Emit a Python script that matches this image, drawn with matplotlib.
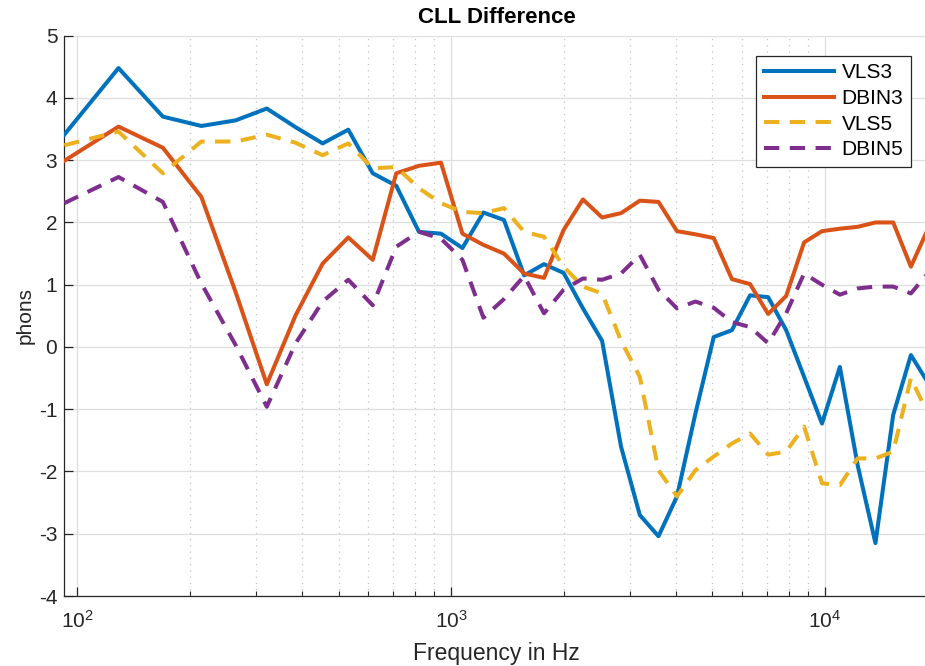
import matplotlib
matplotlib.use("Agg")
import matplotlib.pyplot as plt
from matplotlib.ticker import LogLocator, FixedLocator, NullFormatter

plt.rcParams['font.family'] = ['Liberation Sans', 'DejaVu Sans']
plt.rcParams['axes.unicode_minus'] = False

# Frequencies (Hz), ERB-spaced bands
freqs = [92.3, 128.9, 169.4, 214.7, 265.2, 321.3, 383.7, 453.2, 530.6, 616.9,
         713.0, 820.0, 939.2, 1071.9, 1219.8, 1384.4, 1567.7, 1771.7, 1998.8, 2251.7,
         2533.4, 2847.2, 3196.6, 3585.8, 4019.0, 4501.6, 5039.1, 5637.3, 6303.7, 7045.9,
         7872.3, 8792, 9816, 10958, 12228, 13644, 15220, 16974, 18929]

vls3 = [3.41, 4.48, 3.70, 3.55, 3.64, 3.83, 3.53, 3.27, 3.49, 2.79,
        2.59, 1.85, 1.82, 1.59, 2.16, 2.04, 1.15, 1.33, 1.19, 0.62,
        0.10, -1.60, -2.70, -3.04, -2.40, -1.07, 0.16, 0.27, 0.83, 0.80,
        0.27, -0.48, -1.23, -0.32, -1.90, -3.15, -1.09, -0.13, -0.59]

dbin3 = [2.99, 3.54, 3.20, 2.41, 0.88, -0.60, 0.51, 1.34, 1.76, 1.40,
         2.79, 2.91, 2.96, 1.82, 1.64, 1.50, 1.18, 1.11, 1.88, 2.37,
         2.08, 2.15, 2.35, 2.33, 1.86, 1.81, 1.75, 1.09, 1.01, 0.53,
         0.82, 1.68, 1.86, 1.90, 1.93, 2.00, 2.00, 1.29, 1.92]

vls5 = [3.24, 3.46, 2.79, 3.30, 3.30, 3.41, 3.28, 3.08, 3.27, 2.87,
        2.89, 2.55, 2.31, 2.17, 2.15, 2.23, 1.85, 1.77, 1.29, 0.97,
        0.86, 0.10, -0.48, -1.98, -2.40, -1.98, -1.76, -1.55, -1.39, -1.73,
        -1.68, -1.28, -2.19, -2.22, -1.79, -1.79, -1.68, -0.50, -1.10]

dbin5 = [2.31, 2.73, 2.33, 1.02, 0.03, -0.96, 0.06, 0.73, 1.08, 0.67,
         1.61, 1.85, 1.74, 1.40, 0.47, 0.77, 1.14, 0.54, 0.92, 1.10,
         1.08, 1.18, 1.48, 0.92, 0.62, 0.73, 0.63, 0.40, 0.32, 0.06,
         0.54, 1.18, 1.00, 0.84, 0.94, 0.97, 0.97, 0.86, 1.20]

series_names = ['VLS3', 'DBIN3', 'VLS5', 'DBIN5']
yticks = [-4, -3, -2, -1, 0, 1, 2, 3, 4, 5]

colors = ['#0072BD', '#D95319', '#EDB120', '#7E2F8E']
dark = '#262626'

fig = plt.figure(figsize=(9.25, 6.66), dpi=100)
ax = fig.add_axes([0.0695, 0.1051, 0.9344, 0.8413])

lw = 2.9
dash = (3.8, 2.6)
ax.plot(freqs, vls3, color=colors[0], lw=lw, label=series_names[0], zorder=3)
ax.plot(freqs, dbin3, color=colors[1], lw=lw, label=series_names[1], zorder=3)
ax.plot(freqs, vls5, color=colors[2], lw=lw, ls=(0, dash), label=series_names[2], zorder=3)
ax.plot(freqs, dbin5, color=colors[3], lw=lw, ls=(0, dash), label=series_names[3], zorder=3)

ax.set_xscale('log')
ax.set_xlim(freqs[0], freqs[-1])
ax.set_ylim(-4, 5)
ax.yaxis.set_major_locator(FixedLocator(yticks))
ax.xaxis.set_major_locator(LogLocator(base=10, numticks=10))
ax.xaxis.set_minor_locator(LogLocator(base=10, subs=range(2, 10), numticks=20))
ax.xaxis.set_minor_formatter(NullFormatter())

ax.grid(True, which='major', axis='both', color='#dedede', lw=0.9, ls='-')
ax.grid(True, which='minor', axis='x', color='#c4c4c4', lw=0.9, ls=(0, (1, 4)))
ax.set_axisbelow(True)

for s in ['top', 'right']:
    ax.spines[s].set_visible(False)
for s in ['left', 'bottom']:
    ax.spines[s].set_color(dark)
    ax.spines[s].set_linewidth(0.9)

ax.tick_params(axis='both', which='major', direction='in', length=6.5, width=0.9,
               colors=dark, labelsize=15)
ax.tick_params(axis='x', which='minor', direction='in', length=3.5, width=0.8, colors=dark)
ax.tick_params(axis='y', which='major', pad=5)
ax.tick_params(axis='x', which='major', pad=10)

ax.set_title('CLL Difference', fontsize=16, fontweight='bold', pad=9)
ax.set_xlabel('Frequency in Hz', fontsize=16.5, color=dark, labelpad=7)
ax.set_ylabel('phons', fontsize=15, color=dark, labelpad=3)

leg = ax.legend(loc='upper right', bbox_to_anchor=(910.7 / 925, 1 - 56 / 666),
                bbox_transform=fig.transFigure, borderaxespad=0, fancybox=False,
                framealpha=1, edgecolor=dark, fontsize=15, handlelength=3.4,
                handletextpad=0.35, labelspacing=0.32, borderpad=0.35)
leg.get_frame().set_linewidth(0.9)

fig.savefig('out.png', dpi=100)
